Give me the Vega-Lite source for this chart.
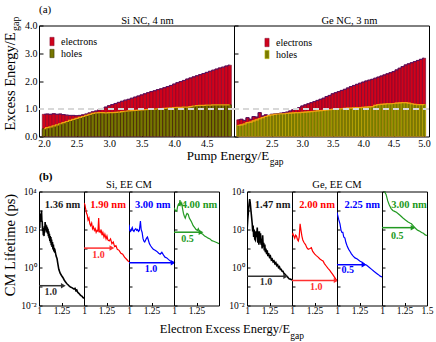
{
"$schema":"https://vega.github.io/schema/vega-lite/v6.json",
"background":"white",
"padding":{"left":1,"top":3.5,"right":0,"bottom":0},
"config":{
 "font":"Liberation Serif",
 "view":{"stroke":"black","strokeWidth":1},
 "axis":{"domain":false,"grid":false,"ticks":true,"tickSize":-3,"tickColor":"black","labelPadding":5,"labelFlush":false,"labelOverlap":false,"labelFont":"Liberation Serif","labelFontSize":10,"labelColor":"black","titleFont":"Liberation Serif","titleFontWeight":"normal","titleFontSize":13,"titleColor":"black"},
 "title":{"font":"Liberation Serif","fontSize":10.5,"fontWeight":"normal","color":"black","offset":2},
 "legend":{"labelFont":"Liberation Serif","labelFontSize":10,"labelColor":"black"}
},
"datasets":{
"siA":[
{"pump":2.00,"electrons":0.80,"holes":0.28},{"pump":2.05,"electrons":0.81,"holes":0.32},{"pump":2.10,"electrons":0.80,"holes":0.35},{"pump":2.15,"electrons":0.82,"holes":0.38},{"pump":2.20,"electrons":0.80,"holes":0.42},{"pump":2.25,"electrons":0.81,"holes":0.46},{"pump":2.30,"electrons":0.79,"holes":0.50},{"pump":2.35,"electrons":0.77,"holes":0.54},{"pump":2.40,"electrons":0.76,"holes":0.58},{"pump":2.45,"electrons":0.76,"holes":0.62},{"pump":2.50,"electrons":0.75,"holes":0.65},{"pump":2.55,"electrons":0.76,"holes":0.69},{"pump":2.60,"electrons":0.78,"holes":0.72},{"pump":2.65,"electrons":0.81,"holes":0.76},{"pump":2.70,"electrons":0.85,"holes":0.80},{"pump":2.75,"electrons":0.89,"holes":0.83},{"pump":2.80,"electrons":0.92,"holes":0.85},{"pump":2.85,"electrons":0.96,"holes":0.86},{"pump":2.90,"electrons":1.01,"holes":0.86},{"pump":2.95,"electrons":1.06,"holes":0.85},{"pump":3.00,"electrons":1.11,"holes":0.86},{"pump":3.05,"electrons":1.15,"holes":0.86},{"pump":3.10,"electrons":1.19,"holes":0.87},{"pump":3.15,"electrons":1.23,"holes":0.88},{"pump":3.20,"electrons":1.27,"holes":0.90},{"pump":3.25,"electrons":1.31,"holes":0.91},{"pump":3.30,"electrons":1.34,"holes":0.92},{"pump":3.35,"electrons":1.38,"holes":0.93},{"pump":3.40,"electrons":1.42,"holes":0.94},{"pump":3.45,"electrons":1.46,"holes":0.95},{"pump":3.50,"electrons":1.50,"holes":0.96},{"pump":3.55,"electrons":1.54,"holes":0.97},{"pump":3.60,"electrons":1.58,"holes":0.98},{"pump":3.65,"electrons":1.62,"holes":0.98},{"pump":3.70,"electrons":1.65,"holes":0.99},{"pump":3.75,"electrons":1.69,"holes":1.00},{"pump":3.80,"electrons":1.72,"holes":1.00},{"pump":3.85,"electrons":1.76,"holes":1.01},{"pump":3.90,"electrons":1.80,"holes":1.02},{"pump":3.95,"electrons":1.84,"holes":1.03},{"pump":4.00,"electrons":1.89,"holes":1.04},{"pump":4.05,"electrons":1.94,"holes":1.05},{"pump":4.10,"electrons":1.98,"holes":1.05},{"pump":4.15,"electrons":2.02,"holes":1.06},{"pump":4.20,"electrons":2.07,"holes":1.06},{"pump":4.25,"electrons":2.11,"holes":1.08},{"pump":4.30,"electrons":2.15,"holes":1.10},{"pump":4.35,"electrons":2.19,"holes":1.11},{"pump":4.40,"electrons":2.23,"holes":1.12},{"pump":4.45,"electrons":2.27,"holes":1.12},{"pump":4.50,"electrons":2.31,"holes":1.13},{"pump":4.55,"electrons":2.35,"holes":1.13},{"pump":4.60,"electrons":2.39,"holes":1.14},{"pump":4.65,"electrons":2.43,"holes":1.14},{"pump":4.70,"electrons":2.47,"holes":1.14},{"pump":4.75,"electrons":2.50,"holes":1.14},{"pump":4.80,"electrons":2.54,"holes":1.14},{"pump":4.85,"electrons":2.57,"holes":1.14}
],
"geA":[
{"pump":1.95,"electrons":0.60,"holes":0.40},{"pump":2.00,"electrons":0.62,"holes":0.42},{"pump":2.05,"electrons":0.58,"holes":0.45},{"pump":2.10,"electrons":0.68,"holes":0.50},{"pump":2.15,"electrons":0.62,"holes":0.52},{"pump":2.20,"electrons":0.72,"holes":0.56},{"pump":2.25,"electrons":0.70,"holes":0.60},{"pump":2.30,"electrons":0.86,"holes":0.64},{"pump":2.35,"electrons":0.74,"holes":0.68},{"pump":2.40,"electrons":0.78,"holes":0.72},{"pump":2.45,"electrons":0.76,"holes":0.75},{"pump":2.50,"electrons":0.80,"holes":0.78},{"pump":2.55,"electrons":0.81,"holes":0.80},{"pump":2.60,"electrons":0.82,"holes":0.81},{"pump":2.65,"electrons":0.84,"holes":0.82},{"pump":2.70,"electrons":0.86,"holes":0.82},{"pump":2.75,"electrons":0.88,"holes":0.83},{"pump":2.80,"electrons":0.92,"holes":0.84},{"pump":2.85,"electrons":0.96,"holes":0.85},{"pump":2.90,"electrons":1.00,"holes":0.86},{"pump":2.95,"electrons":1.04,"holes":0.86},{"pump":3.00,"electrons":1.10,"holes":0.87},{"pump":3.05,"electrons":1.14,"holes":0.88},{"pump":3.10,"electrons":1.18,"holes":0.89},{"pump":3.15,"electrons":1.22,"holes":0.90},{"pump":3.20,"electrons":1.26,"holes":0.91},{"pump":3.25,"electrons":1.30,"holes":0.92},{"pump":3.30,"electrons":1.34,"holes":0.93},{"pump":3.35,"electrons":1.38,"holes":0.94},{"pump":3.40,"electrons":1.44,"holes":0.96},{"pump":3.45,"electrons":1.48,"holes":0.97},{"pump":3.50,"electrons":1.54,"holes":0.98},{"pump":3.55,"electrons":1.58,"holes":0.99},{"pump":3.60,"electrons":1.62,"holes":1.00},{"pump":3.65,"electrons":1.66,"holes":1.00},{"pump":3.70,"electrons":1.70,"holes":1.01},{"pump":3.75,"electrons":1.75,"holes":1.02},{"pump":3.80,"electrons":1.80,"holes":1.02},{"pump":3.85,"electrons":1.84,"holes":1.03},{"pump":3.90,"electrons":1.88,"holes":1.04},{"pump":3.95,"electrons":1.92,"holes":1.04},{"pump":4.00,"electrons":1.96,"holes":1.05},{"pump":4.05,"electrons":2.00,"holes":1.06},{"pump":4.10,"electrons":2.03,"holes":1.07},{"pump":4.15,"electrons":2.06,"holes":1.08},{"pump":4.20,"electrons":2.10,"holes":1.12},{"pump":4.25,"electrons":2.14,"holes":1.15},{"pump":4.30,"electrons":2.18,"holes":1.16},{"pump":4.35,"electrons":2.22,"holes":1.17},{"pump":4.40,"electrons":2.26,"holes":1.18},{"pump":4.45,"electrons":2.30,"holes":1.18},{"pump":4.50,"electrons":2.34,"holes":1.19},{"pump":4.55,"electrons":2.40,"holes":1.20},{"pump":4.60,"electrons":2.46,"holes":1.21},{"pump":4.65,"electrons":2.52,"holes":1.22},{"pump":4.70,"electrons":2.58,"holes":1.22},{"pump":4.75,"electrons":2.62,"holes":1.20},{"pump":4.80,"electrons":2.66,"holes":1.18},{"pump":4.85,"electrons":2.70,"holes":1.16},{"pump":4.90,"electrons":2.74,"holes":1.15},{"pump":4.95,"electrons":2.78,"holes":1.15},{"pump":5.00,"electrons":2.82,"holes":1.15}
],
"curves":[
{"p":"si136","x":1.000,"t":70},{"p":"si136","x":1.004,"t":200},{"p":"si136","x":1.008,"t":120},{"p":"si136","x":1.012,"t":450},{"p":"si136","x":1.016,"t":250},{"p":"si136","x":1.020,"t":700},{"p":"si136","x":1.024,"t":400},{"p":"si136","x":1.028,"t":1000},{"p":"si136","x":1.032,"t":300},{"p":"si136","x":1.036,"t":250},{"p":"si136","x":1.040,"t":80},{"p":"si136","x":1.044,"t":120},{"p":"si136","x":1.048,"t":50},{"p":"si136","x":1.052,"t":90},{"p":"si136","x":1.056,"t":45},{"p":"si136","x":1.060,"t":150},{"p":"si136","x":1.064,"t":70},{"p":"si136","x":1.068,"t":250},{"p":"si136","x":1.072,"t":110},{"p":"si136","x":1.076,"t":180},{"p":"si136","x":1.080,"t":90},{"p":"si136","x":1.084,"t":160},{"p":"si136","x":1.088,"t":70},{"p":"si136","x":1.092,"t":130},{"p":"si136","x":1.096,"t":60},{"p":"si136","x":1.100,"t":110},{"p":"si136","x":1.104,"t":45},{"p":"si136","x":1.108,"t":80},{"p":"si136","x":1.112,"t":35},{"p":"si136","x":1.116,"t":60},{"p":"si136","x":1.120,"t":25},{"p":"si136","x":1.124,"t":45},{"p":"si136","x":1.128,"t":20},{"p":"si136","x":1.132,"t":40},{"p":"si136","x":1.136,"t":15},{"p":"si136","x":1.140,"t":30},{"p":"si136","x":1.145,"t":12},{"p":"si136","x":1.150,"t":22},{"p":"si136","x":1.155,"t":9},{"p":"si136","x":1.160,"t":16},{"p":"si136","x":1.165,"t":7},{"p":"si136","x":1.170,"t":11},{"p":"si136","x":1.175,"t":6},{"p":"si136","x":1.180,"t":7},{"p":"si136","x":1.190,"t":4},{"p":"si136","x":1.200,"t":3},{"p":"si136","x":1.210,"t":1.5},{"p":"si136","x":1.220,"t":0.8},{"p":"si136","x":1.235,"t":0.5},{"p":"si136","x":1.250,"t":0.38},{"p":"si136","x":1.265,"t":0.3},{"p":"si136","x":1.280,"t":0.22},{"p":"si136","x":1.295,"t":0.17},{"p":"si136","x":1.310,"t":0.14},{"p":"si136","x":1.325,"t":0.12},{"p":"si136","x":1.340,"t":0.1},{"p":"si136","x":1.355,"t":0.09},{"p":"si136","x":1.370,"t":0.085},{"p":"si136","x":1.385,"t":0.075},{"p":"si136","x":1.400,"t":0.08},{"p":"si136","x":1.410,"t":0.06},{"p":"si136","x":1.420,"t":0.065},{"p":"si136","x":1.430,"t":0.05},{"p":"si136","x":1.440,"t":0.045},{"p":"si136","x":1.450,"t":0.04},{"p":"si136","x":1.460,"t":0.035},{"p":"si136","x":1.470,"t":0.032},{"p":"si136","x":1.480,"t":0.03},{"p":"si136","x":1.490,"t":0.026},{"p":"si136","x":1.500,"t":0.024},
{"p":"si190","x":1.000,"t":2500},{"p":"si190","x":1.010,"t":2000},{"p":"si190","x":1.018,"t":1260},{"p":"si190","x":1.028,"t":710},{"p":"si190","x":1.037,"t":560},{"p":"si190","x":1.045,"t":320},{"p":"si190","x":1.055,"t":400},{"p":"si190","x":1.065,"t":200},{"p":"si190","x":1.074,"t":160},{"p":"si190","x":1.085,"t":220},{"p":"si190","x":1.095,"t":110},{"p":"si190","x":1.105,"t":140},{"p":"si190","x":1.115,"t":90},{"p":"si190","x":1.125,"t":110},{"p":"si190","x":1.135,"t":70},{"p":"si190","x":1.145,"t":90},{"p":"si190","x":1.155,"t":80},{"p":"si190","x":1.163,"t":400},{"p":"si190","x":1.170,"t":80},{"p":"si190","x":1.180,"t":70},{"p":"si190","x":1.190,"t":100},{"p":"si190","x":1.200,"t":50},{"p":"si190","x":1.210,"t":70},{"p":"si190","x":1.222,"t":40},{"p":"si190","x":1.232,"t":56},{"p":"si190","x":1.245,"t":32},{"p":"si190","x":1.255,"t":45},{"p":"si190","x":1.265,"t":28},{"p":"si190","x":1.280,"t":25},{"p":"si190","x":1.295,"t":32},{"p":"si190","x":1.310,"t":18},{"p":"si190","x":1.325,"t":22},{"p":"si190","x":1.340,"t":12.6},{"p":"si190","x":1.355,"t":14},{"p":"si190","x":1.370,"t":9},{"p":"si190","x":1.390,"t":8},{"p":"si190","x":1.410,"t":5.6},{"p":"si190","x":1.430,"t":5},{"p":"si190","x":1.450,"t":3.5},{"p":"si190","x":1.470,"t":2.8},{"p":"si190","x":1.490,"t":2.2},{"p":"si190","x":1.500,"t":2},
{"p":"si300","x":1.000,"t":180},{"p":"si300","x":1.008,"t":90},{"p":"si300","x":1.018,"t":80},{"p":"si300","x":1.027,"t":100},{"p":"si300","x":1.036,"t":126},{"p":"si300","x":1.045,"t":90},{"p":"si300","x":1.055,"t":80},{"p":"si300","x":1.065,"t":100},{"p":"si300","x":1.075,"t":110},{"p":"si300","x":1.085,"t":90},{"p":"si300","x":1.095,"t":100},{"p":"si300","x":1.105,"t":80},{"p":"si300","x":1.115,"t":90},{"p":"si300","x":1.127,"t":280},{"p":"si300","x":1.135,"t":100},{"p":"si300","x":1.146,"t":70},{"p":"si300","x":1.155,"t":35},{"p":"si300","x":1.164,"t":25},{"p":"si300","x":1.175,"t":22},{"p":"si300","x":1.185,"t":28},{"p":"si300","x":1.195,"t":35},{"p":"si300","x":1.205,"t":40},{"p":"si300","x":1.215,"t":28},{"p":"si300","x":1.227,"t":18},{"p":"si300","x":1.240,"t":14},{"p":"si300","x":1.255,"t":11},{"p":"si300","x":1.270,"t":9},{"p":"si300","x":1.290,"t":8},{"p":"si300","x":1.310,"t":7},{"p":"si300","x":1.330,"t":5.6},{"p":"si300","x":1.346,"t":5},{"p":"si300","x":1.365,"t":6.3},{"p":"si300","x":1.384,"t":4.5},{"p":"si300","x":1.400,"t":3.5},{"p":"si300","x":1.420,"t":3.2},{"p":"si300","x":1.440,"t":2.6},{"p":"si300","x":1.460,"t":2.2},{"p":"si300","x":1.480,"t":2},{"p":"si300","x":1.500,"t":1.8},
{"p":"si400","x":1.000,"t":1400},{"p":"si400","x":1.015,"t":1000},{"p":"si400","x":1.030,"t":900},{"p":"si400","x":1.040,"t":1600},{"p":"si400","x":1.050,"t":2200},{"p":"si400","x":1.060,"t":2000},{"p":"si400","x":1.066,"t":3500},{"p":"si400","x":1.075,"t":2000},{"p":"si400","x":1.085,"t":2500},{"p":"si400","x":1.095,"t":1260},{"p":"si400","x":1.105,"t":700},{"p":"si400","x":1.115,"t":500},{"p":"si400","x":1.125,"t":400},{"p":"si400","x":1.135,"t":560},{"p":"si400","x":1.145,"t":700},{"p":"si400","x":1.158,"t":630},{"p":"si400","x":1.170,"t":400},{"p":"si400","x":1.182,"t":320},{"p":"si400","x":1.195,"t":250},{"p":"si400","x":1.213,"t":160},{"p":"si400","x":1.230,"t":126},{"p":"si400","x":1.245,"t":100},{"p":"si400","x":1.260,"t":90},{"p":"si400","x":1.270,"t":110},{"p":"si400","x":1.286,"t":70},{"p":"si400","x":1.300,"t":63},{"p":"si400","x":1.320,"t":56},{"p":"si400","x":1.340,"t":45},{"p":"si400","x":1.360,"t":40},{"p":"si400","x":1.380,"t":35},{"p":"si400","x":1.400,"t":32},{"p":"si400","x":1.420,"t":26},{"p":"si400","x":1.440,"t":24},{"p":"si400","x":1.460,"t":22},{"p":"si400","x":1.480,"t":20},{"p":"si400","x":1.500,"t":18},
{"p":"ge147","x":1.000,"t":80},{"p":"ge147","x":1.008,"t":320},{"p":"ge147","x":1.015,"t":800},{"p":"ge147","x":1.022,"t":2000},{"p":"ge147","x":1.030,"t":4000},{"p":"ge147","x":1.036,"t":2500},{"p":"ge147","x":1.044,"t":1000},{"p":"ge147","x":1.052,"t":400},{"p":"ge147","x":1.058,"t":200},{"p":"ge147","x":1.063,"t":80},{"p":"ge147","x":1.068,"t":160},{"p":"ge147","x":1.074,"t":40},{"p":"ge147","x":1.080,"t":100},{"p":"ge147","x":1.086,"t":32},{"p":"ge147","x":1.093,"t":28},{"p":"ge147","x":1.100,"t":80},{"p":"ge147","x":1.107,"t":40},{"p":"ge147","x":1.114,"t":126},{"p":"ge147","x":1.120,"t":20},{"p":"ge147","x":1.126,"t":80},{"p":"ge147","x":1.132,"t":16},{"p":"ge147","x":1.138,"t":80},{"p":"ge147","x":1.144,"t":20},{"p":"ge147","x":1.150,"t":63},{"p":"ge147","x":1.156,"t":16},{"p":"ge147","x":1.162,"t":32},{"p":"ge147","x":1.168,"t":10},{"p":"ge147","x":1.174,"t":50},{"p":"ge147","x":1.180,"t":12.6},{"p":"ge147","x":1.186,"t":20},{"p":"ge147","x":1.192,"t":8},{"p":"ge147","x":1.198,"t":16},{"p":"ge147","x":1.204,"t":6.3},{"p":"ge147","x":1.210,"t":10},{"p":"ge147","x":1.218,"t":5},{"p":"ge147","x":1.225,"t":8},{"p":"ge147","x":1.232,"t":4},{"p":"ge147","x":1.240,"t":5.6},{"p":"ge147","x":1.250,"t":3.5},{"p":"ge147","x":1.260,"t":4},{"p":"ge147","x":1.270,"t":2.5},{"p":"ge147","x":1.280,"t":2.8},{"p":"ge147","x":1.290,"t":2},{"p":"ge147","x":1.300,"t":2.2},{"p":"ge147","x":1.310,"t":1.6},{"p":"ge147","x":1.320,"t":1.8},{"p":"ge147","x":1.330,"t":1.26},{"p":"ge147","x":1.340,"t":1.4},{"p":"ge147","x":1.350,"t":1},{"p":"ge147","x":1.360,"t":1.1},{"p":"ge147","x":1.370,"t":0.8},{"p":"ge147","x":1.380,"t":0.8},{"p":"ge147","x":1.390,"t":0.63},{"p":"ge147","x":1.400,"t":0.63},{"p":"ge147","x":1.410,"t":0.5},{"p":"ge147","x":1.420,"t":0.45},{"p":"ge147","x":1.430,"t":0.4},{"p":"ge147","x":1.440,"t":0.35},{"p":"ge147","x":1.450,"t":0.32},{"p":"ge147","x":1.460,"t":0.28},{"p":"ge147","x":1.470,"t":0.25},{"p":"ge147","x":1.480,"t":0.25},{"p":"ge147","x":1.500,"t":0.22},
{"p":"ge200","x":1.000,"t":50},{"p":"ge200","x":1.010,"t":60},{"p":"ge200","x":1.020,"t":45},{"p":"ge200","x":1.030,"t":35},{"p":"ge200","x":1.040,"t":50},{"p":"ge200","x":1.050,"t":45},{"p":"ge200","x":1.060,"t":30},{"p":"ge200","x":1.070,"t":25},{"p":"ge200","x":1.080,"t":40},{"p":"ge200","x":1.090,"t":200},{"p":"ge200","x":1.100,"t":90},{"p":"ge200","x":1.110,"t":45},{"p":"ge200","x":1.120,"t":28},{"p":"ge200","x":1.135,"t":20},{"p":"ge200","x":1.150,"t":16},{"p":"ge200","x":1.165,"t":11},{"p":"ge200","x":1.180,"t":9},{"p":"ge200","x":1.200,"t":10},{"p":"ge200","x":1.215,"t":11},{"p":"ge200","x":1.230,"t":7},{"p":"ge200","x":1.253,"t":5},{"p":"ge200","x":1.270,"t":4.2},{"p":"ge200","x":1.290,"t":3.5},{"p":"ge200","x":1.310,"t":2.8},{"p":"ge200","x":1.330,"t":2.4},{"p":"ge200","x":1.345,"t":2.2},{"p":"ge200","x":1.360,"t":1.6},{"p":"ge200","x":1.380,"t":1.2},{"p":"ge200","x":1.400,"t":0.9},{"p":"ge200","x":1.420,"t":0.7},{"p":"ge200","x":1.435,"t":0.56},{"p":"ge200","x":1.450,"t":0.45},{"p":"ge200","x":1.470,"t":0.32},{"p":"ge200","x":1.485,"t":0.25},{"p":"ge200","x":1.500,"t":0.21},
{"p":"ge225","x":1.000,"t":800},{"p":"ge225","x":1.010,"t":500},{"p":"ge225","x":1.020,"t":320},{"p":"ge225","x":1.033,"t":200},{"p":"ge225","x":1.045,"t":90},{"p":"ge225","x":1.055,"t":70},{"p":"ge225","x":1.065,"t":70},{"p":"ge225","x":1.075,"t":40},{"p":"ge225","x":1.088,"t":35},{"p":"ge225","x":1.100,"t":20},{"p":"ge225","x":1.115,"t":12.6},{"p":"ge225","x":1.130,"t":9},{"p":"ge225","x":1.145,"t":7},{"p":"ge225","x":1.160,"t":5.2},{"p":"ge225","x":1.180,"t":4},{"p":"ge225","x":1.200,"t":3.2},{"p":"ge225","x":1.225,"t":2.8},{"p":"ge225","x":1.252,"t":2.2},{"p":"ge225","x":1.280,"t":1.9},{"p":"ge225","x":1.307,"t":1.5},{"p":"ge225","x":1.330,"t":1.3},{"p":"ge225","x":1.360,"t":1},{"p":"ge225","x":1.385,"t":0.8},{"p":"ge225","x":1.410,"t":0.63},{"p":"ge225","x":1.434,"t":0.52},{"p":"ge225","x":1.460,"t":0.42},{"p":"ge225","x":1.480,"t":0.35},{"p":"ge225","x":1.500,"t":0.32},
{"p":"ge300","x":1.000,"t":20000},{"p":"ge300","x":1.015,"t":12600},{"p":"ge300","x":1.027,"t":10000},{"p":"ge300","x":1.045,"t":7000},{"p":"ge300","x":1.064,"t":3200},{"p":"ge300","x":1.080,"t":2000},{"p":"ge300","x":1.101,"t":1260},{"p":"ge300","x":1.120,"t":1000},{"p":"ge300","x":1.140,"t":900},{"p":"ge300","x":1.160,"t":800},{"p":"ge300","x":1.177,"t":700},{"p":"ge300","x":1.200,"t":560},{"p":"ge300","x":1.233,"t":400},{"p":"ge300","x":1.260,"t":320},{"p":"ge300","x":1.290,"t":250},{"p":"ge300","x":1.310,"t":220},{"p":"ge300","x":1.327,"t":200},{"p":"ge300","x":1.345,"t":160},{"p":"ge300","x":1.365,"t":126},{"p":"ge300","x":1.385,"t":100},{"p":"ge300","x":1.400,"t":90},{"p":"ge300","x":1.420,"t":80},{"p":"ge300","x":1.440,"t":70},{"p":"ge300","x":1.460,"t":63},{"p":"ge300","x":1.480,"t":52},{"p":"ge300","x":1.500,"t":48}
],
"arrows":[
{"p":"si136","x1":1,"x2":1.27,"y":0.11,"lab":"1.0","lx":1.13,"ly":0.05},
{"p":"si190","x1":1,"x2":1.31,"y":10.5,"lab":"1.0","lx":1.16,"ly":4.7},
{"p":"si300","x1":1,"x2":1.49,"y":1.8,"lab":"1.0","lx":1.245,"ly":0.8},
{"p":"si400","x1":1,"x2":1.3,"y":72,"lab":"0.5","lx":1.15,"ly":30},
{"p":"ge147","x1":1,"x2":1.43,"y":0.35,"lab":"1.0","lx":1.21,"ly":0.17},
{"p":"ge200","x1":1,"x2":1.49,"y":0.21,"lab":"1.0","lx":1.27,"ly":0.09},
{"p":"ge225","x1":1,"x2":1.3,"y":1.4,"lab":"0.5","lx":1.12,"ly":0.7},
{"p":"ge300","x1":1,"x2":1.345,"y":125,"lab":"0.5","lx":1.17,"ly":48}
],
"sizes":[
{"p":"si136","lab":"1.36 nm","x":1.262,"y":2000},
{"p":"si190","lab":"1.90 nm","x":1.268,"y":2000},
{"p":"si300","lab":"3.00 nm","x":1.264,"y":2000},
{"p":"si400","lab":"4.00 nm","x":1.283,"y":2000},
{"p":"ge147","lab":"1.47 nm","x":1.285,"y":2000},
{"p":"ge200","lab":"2.00 nm","x":1.279,"y":2000},
{"p":"ge225","lab":"2.25 nm","x":1.28,"y":2000},
{"p":"ge300","lab":"3.00 nm","x":1.3,"y":2000}
]
},
"spacing":3,
"vconcat":[
{
 "title":{"text":"(a)","anchor":"start","frame":"group","fontSize":11,"offset":0},
 "spacing":0,
 "bounds":"flush",
 "resolve":{"scale":{"color":"independent","stroke":"independent"},"legend":{"color":"independent"}},
 "hconcat":[
  {
   "width":195,"height":111,
   "title":{"text":"Si NC, 4 nm","dx":11,"offset":-5.5},
   "data":{"name":"siA"},
   "layer":[
    {"transform":[{"fold":["electrons","holes"],"as":["carrier","energy"]}],
     "mark":{"type":"bar","width":3.45,"strokeWidth":0.6,"clip":true},
     "encoding":{
      "x":{"field":"pump","type":"quantitative","scale":{"domain":[2,4.84],"nice":false,"zero":false},
           "axis":{"values":[2,2.5,3,3.5,4,4.5],"tickCount":20,"format":".1f","labelOverlap":false,"tickSize":-4,"labelPadding":6,"title":"Pump Energy/E","titleX":229.6,"titleY":23,"titleAlign":"right","titleBaseline":"alphabetic","titleAnchor":null}},
      "y":{"field":"energy","type":"quantitative","stack":null,"scale":{"domain":[0,4],"nice":false},
           "axis":{"values":[0,1,2,3,4],"tickCount":20,"format":".1f","labelOverlap":false,"tickSize":-4,"labelPadding":6,"title":"Excess Energy/E","titleFontSize":14.5,"titleAngle":-90,"titleX":-24.5,"titleY":55.5,"titleAlign":"center","titleBaseline":"alphabetic"}},
      "color":{"field":"carrier","type":"nominal","scale":{"domain":["electrons","holes"],"range":["#d0021b","#767600"]},
               "legend":{"title":null,"orient":"none","legendX":8,"legendY":11,"symbolType":"M-0.5,-1H0.5V1H-0.5Z","symbolSize":70,"symbolStrokeWidth":0.5,"symbolStrokeColor":"#222222","rowPadding":0,"labelOffset":4,"padding":0}},
      "stroke":{"field":"carrier","type":"nominal","scale":{"domain":["electrons","holes"],"range":["#7a0a30","#2a2a00"]},"legend":null}
     }},
    {"mark":{"type":"line","interpolate":"step","color":"#5a1060","strokeWidth":1,"clip":true},
     "encoding":{"x":{"field":"pump","type":"quantitative"},"y":{"field":"electrons","type":"quantitative"}}},
    {"mark":{"type":"line","interpolate":"step","color":"#f0a010","strokeWidth":1.2,"clip":true},
     "encoding":{"x":{"field":"pump","type":"quantitative"},"y":{"field":"holes","type":"quantitative"}}},
    {"mark":{"type":"rule","color":"#d8d8d8","strokeDash":[6,4],"strokeWidth":1.5},
     "encoding":{"y":{"datum":1}}}
   ]
  },
  {
   "width":195,"height":111,
   "title":{"text":"Ge NC, 3 nm","dx":18,"offset":-10.5},
   "data":{"name":"geA"},
   "layer":[
    {"transform":[{"fold":["electrons","holes"],"as":["carrier","energy"]}],
     "mark":{"type":"bar","width":3.2,"strokeWidth":0.7,"clip":true},
     "encoding":{
      "x":{"field":"pump","type":"quantitative","scale":{"domain":[1.96,5.0],"nice":false,"zero":false},
           "axis":{"values":[2.5,3,3.5,4,4.5,5],"tickCount":20,"format":".1f","labelOverlap":false,"tickSize":-4,"labelPadding":6,"title":"gap","titleFontSize":9.5,"titleX":35.3,"titleY":28,"titleAlign":"left","titleBaseline":"alphabetic","titleAnchor":null}},
      "y":{"field":"energy","type":"quantitative","stack":null,"scale":{"domain":[0,4],"nice":false},
           "axis":{"values":[0,1,2,3,4],"tickCount":20,"labels":false,"tickSize":-4,"title":"gap","titleFontSize":10,"titleAngle":-90,"titleX":-215.7,"titleY":5,"titleAlign":"left","titleBaseline":"alphabetic"}},
      "color":{"field":"carrier","type":"nominal","scale":{"domain":["electrons","holes"],"range":["#d0021b","#7a7a00"]},
               "legend":{"title":null,"orient":"none","legendX":28,"legendY":12,"symbolType":"M-0.5,-1H0.5V1H-0.5Z","symbolSize":70,"symbolStrokeWidth":0.5,"symbolStrokeColor":"#222222","rowPadding":0,"labelOffset":4,"padding":0}},
      "stroke":{"field":"carrier","type":"nominal","scale":{"domain":["electrons","holes"],"range":["#7a0a30","#c8c800"]},"legend":null}
     }},
    {"mark":{"type":"line","interpolate":"step","color":"#5a1060","strokeWidth":1,"clip":true},
     "encoding":{"x":{"field":"pump","type":"quantitative"},"y":{"field":"electrons","type":"quantitative"}}},
    {"mark":{"type":"line","interpolate":"step","color":"#f0a010","strokeWidth":1.2,"clip":true},
     "encoding":{"x":{"field":"pump","type":"quantitative"},"y":{"field":"holes","type":"quantitative"}}},
    {"mark":{"type":"rule","color":"#d8d8d8","strokeDash":[6,4],"strokeWidth":1.5},
     "encoding":{"y":{"datum":1}}}
   ]
  }
 ]
},
{
 "spacing":0,
 "bounds":"flush",
 "hconcat":[
    {"width":45,"height":114,
     "title":{"text":"(b)","anchor":"start","frame":"group","fontSize":11,"fontWeight":"bold","offset":5},
     "layer":[
     {"data":{"name":"curves"},"transform":[{"filter":"datum.p=='si136'"}],"mark":{"type":"line","color":"#000000","strokeWidth":1.6,"clip":true},
      "encoding":{"x":{"field":"x","type":"quantitative","scale":{"domain":[1,1.5],"nice":false,"zero":false},"axis":{"values":[1,1.25],"tickCount":20,"format":".3~f","labelFontSize":9.5,"labelPadding":3,"title":null}},
                  "y":{"field":"t","type":"quantitative","scale":{"type":"log","domain":[0.01,10000],"nice":false},"axis":{"values":[0.01,0.1,1,10,100,1000,10000],"tickCount":20,"labelExpr":"datum.value==10000?'10⁴':datum.value==100?'10²':datum.value==1?'10⁰':datum.value==0.01?'10⁻²':''","labelFontSize":9.5,"labelPadding":6,"title":"CM Lifetime (ps)","titleFontSize":14.5,"titleAngle":-90,"titleX":-24.5,"titleY":53,"titleAlign":"center","titleBaseline":"alphabetic"}}}},
     {"data":{"name":"arrows"},"transform":[{"filter":"datum.p=='si136'"}],"mark":{"type":"rule","color":"#333333","strokeWidth":1.5},
      "encoding":{"x":{"field":"x1","type":"quantitative"},"x2":{"field":"x2"},"y":{"field":"y","type":"quantitative"}}},
     {"data":{"name":"arrows"},"transform":[{"filter":"datum.p=='si136'"}],"mark":{"type":"point","shape":"triangle-right","filled":true,"opacity":1,"color":"#333333","size":30},
      "encoding":{"x":{"field":"x2","type":"quantitative"},"y":{"field":"y","type":"quantitative"}}},
     {"data":{"name":"arrows"},"transform":[{"filter":"datum.p=='si136'"}],"mark":{"type":"text","color":"#333333","fontSize":10,"fontWeight":"bold","baseline":"middle"},
      "encoding":{"x":{"field":"lx","type":"quantitative"},"y":{"field":"ly","type":"quantitative"},"text":{"field":"lab"}}},
     {"data":{"name":"sizes"},"transform":[{"filter":"datum.p=='si136'"}],"mark":{"type":"text","color":"#1a1a1a","fontSize":10.5,"fontWeight":"bold","baseline":"middle"},
      "encoding":{"x":{"field":"x","type":"quantitative"},"y":{"field":"y","type":"quantitative"},"text":{"field":"lab"}}}
    ]},
    {"width":45,"height":114,
     "title":{"text":"Si, EE CM","anchor":"end","align":"center","frame":"group","offset":1},
     "layer":[
     {"data":{"name":"curves"},"transform":[{"filter":"datum.p=='si190'"}],"mark":{"type":"line","color":"#ff0000","strokeWidth":1.2,"clip":true},
      "encoding":{"x":{"field":"x","type":"quantitative","scale":{"domain":[1,1.5],"nice":false,"zero":false},"axis":{"values":[1,1.25],"tickCount":20,"format":".3~f","labelFontSize":9.5,"labelPadding":3,"title":null}},
                  "y":{"field":"t","type":"quantitative","scale":{"type":"log","domain":[0.01,10000],"nice":false},"axis":{"values":[0.01,0.1,1,10,100,1000,10000],"tickCount":20,"labels":false,"title":null}}}},
     {"data":{"name":"arrows"},"transform":[{"filter":"datum.p=='si190'"}],"mark":{"type":"rule","color":"#ff3030","strokeWidth":1.5},
      "encoding":{"x":{"field":"x1","type":"quantitative"},"x2":{"field":"x2"},"y":{"field":"y","type":"quantitative"}}},
     {"data":{"name":"arrows"},"transform":[{"filter":"datum.p=='si190'"}],"mark":{"type":"point","shape":"triangle-right","filled":true,"opacity":1,"color":"#ff3030","size":30},
      "encoding":{"x":{"field":"x2","type":"quantitative"},"y":{"field":"y","type":"quantitative"}}},
     {"data":{"name":"arrows"},"transform":[{"filter":"datum.p=='si190'"}],"mark":{"type":"text","color":"#ff3030","fontSize":10,"fontWeight":"bold","baseline":"middle"},
      "encoding":{"x":{"field":"lx","type":"quantitative"},"y":{"field":"ly","type":"quantitative"},"text":{"field":"lab"}}},
     {"data":{"name":"sizes"},"transform":[{"filter":"datum.p=='si190'"}],"mark":{"type":"text","color":"#ff0000","fontSize":10.5,"fontWeight":"bold","baseline":"middle"},
      "encoding":{"x":{"field":"x","type":"quantitative"},"y":{"field":"y","type":"quantitative"},"text":{"field":"lab"}}}
    ]},
    {"width":45,"height":114,"layer":[
     {"data":{"name":"curves"},"transform":[{"filter":"datum.p=='si300'"}],"mark":{"type":"line","color":"#0000ff","strokeWidth":1.2,"clip":true},
      "encoding":{"x":{"field":"x","type":"quantitative","scale":{"domain":[1,1.5],"nice":false,"zero":false},"axis":{"values":[1,1.25],"tickCount":20,"format":".3~f","labelFontSize":9.5,"labelPadding":3,"title":null}},
                  "y":{"field":"t","type":"quantitative","scale":{"type":"log","domain":[0.01,10000],"nice":false},"axis":{"values":[0.01,0.1,1,10,100,1000,10000],"tickCount":20,"labels":false,"title":null}}}},
     {"data":{"name":"arrows"},"transform":[{"filter":"datum.p=='si300'"}],"mark":{"type":"rule","color":"#0000ff","strokeWidth":1.5},
      "encoding":{"x":{"field":"x1","type":"quantitative"},"x2":{"field":"x2"},"y":{"field":"y","type":"quantitative"}}},
     {"data":{"name":"arrows"},"transform":[{"filter":"datum.p=='si300'"}],"mark":{"type":"point","shape":"triangle-right","filled":true,"opacity":1,"color":"#0000ff","size":30},
      "encoding":{"x":{"field":"x2","type":"quantitative"},"y":{"field":"y","type":"quantitative"}}},
     {"data":{"name":"arrows"},"transform":[{"filter":"datum.p=='si300'"}],"mark":{"type":"text","color":"#0000ff","fontSize":10,"fontWeight":"bold","baseline":"middle"},
      "encoding":{"x":{"field":"lx","type":"quantitative"},"y":{"field":"ly","type":"quantitative"},"text":{"field":"lab"}}},
     {"data":{"name":"sizes"},"transform":[{"filter":"datum.p=='si300'"}],"mark":{"type":"text","color":"#0000ff","fontSize":10.5,"fontWeight":"bold","baseline":"middle"},
      "encoding":{"x":{"field":"x","type":"quantitative"},"y":{"field":"y","type":"quantitative"},"text":{"field":"lab"}}}
    ]},
    {"width":45,"height":114,"layer":[
     {"data":{"name":"curves"},"transform":[{"filter":"datum.p=='si400'"}],"mark":{"type":"line","color":"#229922","strokeWidth":1.2,"clip":true},
      "encoding":{"x":{"field":"x","type":"quantitative","scale":{"domain":[1,1.5],"nice":false,"zero":false},"axis":{"values":[1,1.25],"tickCount":20,"format":".3~f","labelFontSize":9.5,"labelPadding":3,"title":"Electron Excess Energy/E","titleFontSize":12.5,"titleX":115.6,"titleY":27,"titleAlign":"right","titleBaseline":"alphabetic","titleAnchor":null}},
                  "y":{"field":"t","type":"quantitative","scale":{"type":"log","domain":[0.01,10000],"nice":false},"axis":{"values":[0.01,0.1,1,10,100,1000,10000],"tickCount":20,"labels":false,"title":null}}}},
     {"data":{"name":"arrows"},"transform":[{"filter":"datum.p=='si400'"}],"mark":{"type":"rule","color":"#229922","strokeWidth":1.5},
      "encoding":{"x":{"field":"x1","type":"quantitative"},"x2":{"field":"x2"},"y":{"field":"y","type":"quantitative"}}},
     {"data":{"name":"arrows"},"transform":[{"filter":"datum.p=='si400'"}],"mark":{"type":"point","shape":"triangle-right","filled":true,"opacity":1,"color":"#229922","size":30},
      "encoding":{"x":{"field":"x2","type":"quantitative"},"y":{"field":"y","type":"quantitative"}}},
     {"data":{"name":"arrows"},"transform":[{"filter":"datum.p=='si400'"}],"mark":{"type":"text","color":"#229922","fontSize":10,"fontWeight":"bold","baseline":"middle"},
      "encoding":{"x":{"field":"lx","type":"quantitative"},"y":{"field":"ly","type":"quantitative"},"text":{"field":"lab"}}},
     {"data":{"name":"sizes"},"transform":[{"filter":"datum.p=='si400'"}],"mark":{"type":"text","color":"#229922","fontSize":10.5,"fontWeight":"bold","baseline":"middle"},
      "encoding":{"x":{"field":"x","type":"quantitative"},"y":{"field":"y","type":"quantitative"},"text":{"field":"lab"}}}
    ]},
    {"width":28,"height":114,"view":{"stroke":null},"data":{"values":[{"v":0}]},"mark":{"type":"text","text":""},"encoding":{}},
    {"width":45,"height":114,"layer":[
     {"data":{"name":"curves"},"transform":[{"filter":"datum.p=='ge147'"}],"mark":{"type":"line","color":"#000000","strokeWidth":1.6,"clip":true},
      "encoding":{"x":{"field":"x","type":"quantitative","scale":{"domain":[1,1.5],"nice":false,"zero":false},"axis":{"values":[1,1.25],"tickCount":20,"format":".3~f","labelFontSize":9.5,"labelPadding":3,"title":"gap","titleFontSize":9.5,"titleX":42.8,"titleY":33,"titleAlign":"left","titleBaseline":"alphabetic","titleAnchor":null}},
                  "y":{"field":"t","type":"quantitative","scale":{"type":"log","domain":[0.01,10000],"nice":false},"axis":{"values":[0.01,0.1,1,10,100,1000,10000],"tickCount":20,"labelExpr":"datum.value==10000?'10⁴':datum.value==100?'10²':datum.value==1?'10⁰':datum.value==0.01?'10⁻²':''","labelFontSize":9.5,"labelPadding":6,"title":null}}}},
     {"data":{"name":"arrows"},"transform":[{"filter":"datum.p=='ge147'"}],"mark":{"type":"rule","color":"#333333","strokeWidth":1.5},
      "encoding":{"x":{"field":"x1","type":"quantitative"},"x2":{"field":"x2"},"y":{"field":"y","type":"quantitative"}}},
     {"data":{"name":"arrows"},"transform":[{"filter":"datum.p=='ge147'"}],"mark":{"type":"point","shape":"triangle-right","filled":true,"opacity":1,"color":"#333333","size":30},
      "encoding":{"x":{"field":"x2","type":"quantitative"},"y":{"field":"y","type":"quantitative"}}},
     {"data":{"name":"arrows"},"transform":[{"filter":"datum.p=='ge147'"}],"mark":{"type":"text","color":"#333333","fontSize":10,"fontWeight":"bold","baseline":"middle"},
      "encoding":{"x":{"field":"lx","type":"quantitative"},"y":{"field":"ly","type":"quantitative"},"text":{"field":"lab"}}},
     {"data":{"name":"sizes"},"transform":[{"filter":"datum.p=='ge147'"}],"mark":{"type":"text","color":"#1a1a1a","fontSize":10.5,"fontWeight":"bold","baseline":"middle"},
      "encoding":{"x":{"field":"x","type":"quantitative"},"y":{"field":"y","type":"quantitative"},"text":{"field":"lab"}}}
    ]},
    {"width":45,"height":114,
     "title":{"text":"Ge, EE CM","anchor":"end","align":"center","frame":"group","offset":1},
     "layer":[
     {"data":{"name":"curves"},"transform":[{"filter":"datum.p=='ge200'"}],"mark":{"type":"line","color":"#ff0000","strokeWidth":1.2,"clip":true},
      "encoding":{"x":{"field":"x","type":"quantitative","scale":{"domain":[1,1.5],"nice":false,"zero":false},"axis":{"values":[1,1.25],"tickCount":20,"format":".3~f","labelFontSize":9.5,"labelPadding":3,"title":null}},
                  "y":{"field":"t","type":"quantitative","scale":{"type":"log","domain":[0.01,10000],"nice":false},"axis":{"values":[0.01,0.1,1,10,100,1000,10000],"tickCount":20,"labels":false,"title":null}}}},
     {"data":{"name":"arrows"},"transform":[{"filter":"datum.p=='ge200'"}],"mark":{"type":"rule","color":"#ff3030","strokeWidth":1.5},
      "encoding":{"x":{"field":"x1","type":"quantitative"},"x2":{"field":"x2"},"y":{"field":"y","type":"quantitative"}}},
     {"data":{"name":"arrows"},"transform":[{"filter":"datum.p=='ge200'"}],"mark":{"type":"point","shape":"triangle-right","filled":true,"opacity":1,"color":"#ff3030","size":30},
      "encoding":{"x":{"field":"x2","type":"quantitative"},"y":{"field":"y","type":"quantitative"}}},
     {"data":{"name":"arrows"},"transform":[{"filter":"datum.p=='ge200'"}],"mark":{"type":"text","color":"#ff3030","fontSize":10,"fontWeight":"bold","baseline":"middle"},
      "encoding":{"x":{"field":"lx","type":"quantitative"},"y":{"field":"ly","type":"quantitative"},"text":{"field":"lab"}}},
     {"data":{"name":"sizes"},"transform":[{"filter":"datum.p=='ge200'"}],"mark":{"type":"text","color":"#ff0000","fontSize":10.5,"fontWeight":"bold","baseline":"middle"},
      "encoding":{"x":{"field":"x","type":"quantitative"},"y":{"field":"y","type":"quantitative"},"text":{"field":"lab"}}}
    ]},
    {"width":45,"height":114,"layer":[
     {"data":{"name":"curves"},"transform":[{"filter":"datum.p=='ge225'"}],"mark":{"type":"line","color":"#0000ff","strokeWidth":1.2,"clip":true},
      "encoding":{"x":{"field":"x","type":"quantitative","scale":{"domain":[1,1.5],"nice":false,"zero":false},"axis":{"values":[1,1.25],"tickCount":20,"format":".3~f","labelFontSize":9.5,"labelPadding":3,"title":null}},
                  "y":{"field":"t","type":"quantitative","scale":{"type":"log","domain":[0.01,10000],"nice":false},"axis":{"values":[0.01,0.1,1,10,100,1000,10000],"tickCount":20,"labels":false,"title":null}}}},
     {"data":{"name":"arrows"},"transform":[{"filter":"datum.p=='ge225'"}],"mark":{"type":"rule","color":"#0000ff","strokeWidth":1.5},
      "encoding":{"x":{"field":"x1","type":"quantitative"},"x2":{"field":"x2"},"y":{"field":"y","type":"quantitative"}}},
     {"data":{"name":"arrows"},"transform":[{"filter":"datum.p=='ge225'"}],"mark":{"type":"point","shape":"triangle-right","filled":true,"opacity":1,"color":"#0000ff","size":30},
      "encoding":{"x":{"field":"x2","type":"quantitative"},"y":{"field":"y","type":"quantitative"}}},
     {"data":{"name":"arrows"},"transform":[{"filter":"datum.p=='ge225'"}],"mark":{"type":"text","color":"#0000ff","fontSize":10,"fontWeight":"bold","baseline":"middle"},
      "encoding":{"x":{"field":"lx","type":"quantitative"},"y":{"field":"ly","type":"quantitative"},"text":{"field":"lab"}}},
     {"data":{"name":"sizes"},"transform":[{"filter":"datum.p=='ge225'"}],"mark":{"type":"text","color":"#0000ff","fontSize":10.5,"fontWeight":"bold","baseline":"middle"},
      "encoding":{"x":{"field":"x","type":"quantitative"},"y":{"field":"y","type":"quantitative"},"text":{"field":"lab"}}}
    ]},
    {"width":45,"height":114,"layer":[
     {"data":{"name":"curves"},"transform":[{"filter":"datum.p=='ge300'"}],"mark":{"type":"line","color":"#229922","strokeWidth":1.2,"clip":true},
      "encoding":{"x":{"field":"x","type":"quantitative","scale":{"domain":[1,1.5],"nice":false,"zero":false},"axis":{"values":[1,1.25,1.5],"tickCount":20,"format":".3~f","labelFontSize":9.5,"labelPadding":3,"title":null}},
                  "y":{"field":"t","type":"quantitative","scale":{"type":"log","domain":[0.01,10000],"nice":false},"axis":{"values":[0.01,0.1,1,10,100,1000,10000],"tickCount":20,"labels":false,"title":null}}}},
     {"data":{"name":"arrows"},"transform":[{"filter":"datum.p=='ge300'"}],"mark":{"type":"rule","color":"#229922","strokeWidth":1.5},
      "encoding":{"x":{"field":"x1","type":"quantitative"},"x2":{"field":"x2"},"y":{"field":"y","type":"quantitative"}}},
     {"data":{"name":"arrows"},"transform":[{"filter":"datum.p=='ge300'"}],"mark":{"type":"point","shape":"triangle-right","filled":true,"opacity":1,"color":"#229922","size":30},
      "encoding":{"x":{"field":"x2","type":"quantitative"},"y":{"field":"y","type":"quantitative"}}},
     {"data":{"name":"arrows"},"transform":[{"filter":"datum.p=='ge300'"}],"mark":{"type":"text","color":"#229922","fontSize":10,"fontWeight":"bold","baseline":"middle"},
      "encoding":{"x":{"field":"lx","type":"quantitative"},"y":{"field":"ly","type":"quantitative"},"text":{"field":"lab"}}},
     {"data":{"name":"sizes"},"transform":[{"filter":"datum.p=='ge300'"}],"mark":{"type":"text","color":"#229922","fontSize":10.5,"fontWeight":"bold","baseline":"middle"},
      "encoding":{"x":{"field":"x","type":"quantitative"},"y":{"field":"y","type":"quantitative"},"text":{"field":"lab"}}}
    ]}
 ]
}
]
}
